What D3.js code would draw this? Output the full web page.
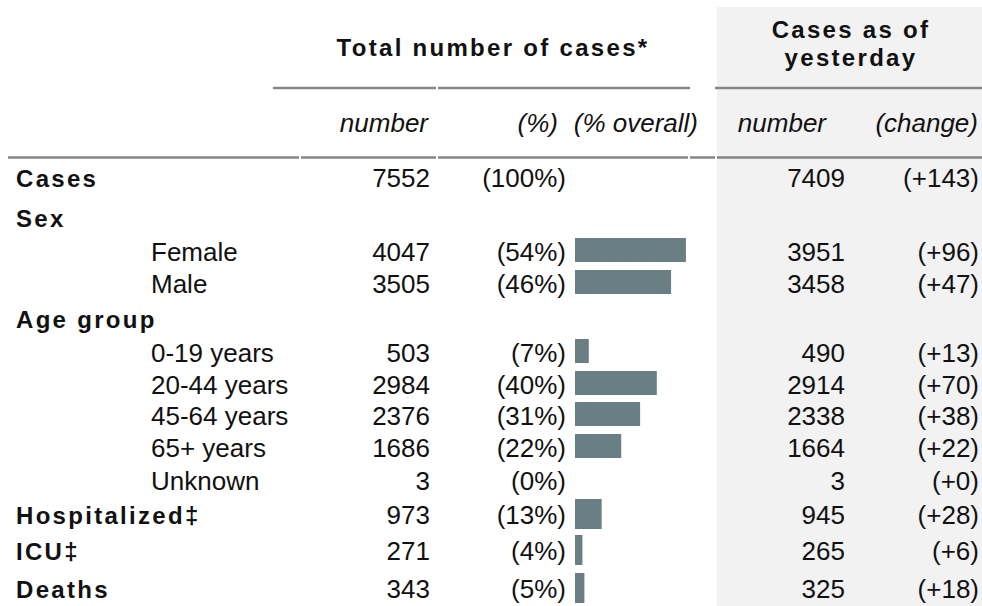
<!DOCTYPE html>
<html>
<head>
<meta charset="utf-8">
<script src="https://cdn.jsdelivr.net/npm/d3@7"></script>
<style>
  html, body { margin: 0; padding: 0; background: #ffffff; }
  svg { display: block; }
</style>
</head>
<body>
<svg id="chart" width="982" height="606"></svg>
<script>
// ---- data ----
const rowLabels = ["Cases", "Sex", "Female", "Male", "Age group", "0-19 years", "20-44 years",
                   "45-64 years", "65+ years", "Unknown", "Hospitalized‡", "ICU‡", "Deaths"];
const rowLevels = [0, 0, 1, 1, 0, 1, 1, 1, 1, 1, 0, 0, 0];
const totalCases = [7552, null, 4047, 3505, null, 503, 2984, 2376, 1686, 3, 973, 271, 343];
const yesterdayCases = [7409, null, 3951, 3458, null, 490, 2914, 2338, 1664, 3, 945, 265, 325];
const changeCases = [143, null, 96, 47, null, 13, 70, 38, 22, 0, 28, 6, 18];
const headerTitles = ["Total number of cases*", "Cases as of", "yesterday"];
const columnHeaders = ["number", "(%)", "(% overall)", "number", "(change)"];

// ---- layout ----
const svg = d3.select("#chart");
const FONT = "'Liberation Sans', Arial, sans-serif";
const ink = "#111111";
const lineGray = "#868686";
const barColor = "#6a7f83";

// vertical pitch from one row to the next (table row heights)
const rowPitch = [40, 34, 32, 35, 34, 32, 31, 32, 33, 34, 36, 38];

const overall = totalCases[0];
const rows = rowLabels.map((label, i) => ({
  label, level: rowLevels[i], total: totalCases[i],
  yest: yesterdayCases[i], chg: changeCases[i], i
}));
let yCursor = 178;
rows.forEach((r, i) => {
  r.center = yCursor;
  yCursor += rowPitch[i] || 0;
});

// shaded "yesterday" panel
svg.append("rect").attr("x", 717).attr("y", 7).attr("width", 265).attr("height", 599)
  .attr("fill", "#f2f2f2");

// x scale for bars
const x = d3.scaleLinear().domain([0, 1]).range([575, 575 + 207]);

// ---- header ----
const bold = sel => sel.attr("font-family", FONT).attr("font-weight", "bold")
  .attr("font-size", 24).attr("letter-spacing", 2.3).attr("fill", ink);

svg.append("text").text(headerTitles[0]).attr("x", 493).attr("y", 56)
  .attr("text-anchor", "middle").call(bold);
svg.append("text").text(headerTitles[1]).attr("x", 851).attr("y", 38)
  .attr("text-anchor", "middle").call(bold);
svg.append("text").text(headerTitles[2]).attr("x", 851).attr("y", 66)
  .attr("text-anchor", "middle").call(bold);

// header underline segments
const hdrLines = [[273, 436], [438, 690], [715, 982]];
svg.selectAll("line.hdr").data(hdrLines).enter().append("line")
  .attr("x1", d => d[0]).attr("x2", d => d[1]).attr("y1", 88).attr("y2", 88)
  .attr("stroke", lineGray).attr("stroke-width", 2.5);

// column header row
const colHdrPos = [
  {x: 428, anchor: "end"}, {x: 558, anchor: "end"}, {x: 698, anchor: "end"},
  {x: 826, anchor: "end"}, {x: 978, anchor: "end"}
];
svg.selectAll("text.colhdr").data(columnHeaders).enter().append("text")
  .attr("x", (d, i) => colHdrPos[i].x).attr("y", 132)
  .attr("text-anchor", (d, i) => colHdrPos[i].anchor)
  .attr("font-family", FONT).attr("font-style", "italic").attr("font-size", 26)
  .attr("fill", ink).text(d => d);

// line under column headers
const subLines = [[8, 299], [301, 436], [438, 688], [690, 715], [717, 982]];
svg.selectAll("line.sub").data(subLines).enter().append("line")
  .attr("x1", d => d[0]).attr("x2", d => d[1]).attr("y1", 157.5).attr("y2", 157.5)
  .attr("stroke", lineGray).attr("stroke-width", 2.5);

// ---- rows ----
const g = svg.selectAll("g.row").data(rows).enter().append("g");

g.append("text")
  .attr("x", d => d.level === 0 ? 16 : 151)
  .attr("y", d => d.center + 9)
  .attr("font-family", FONT)
  .attr("font-size", d => d.level === 0 ? 24 : 26)
  .attr("font-weight", d => d.level === 0 ? "bold" : "normal")
  .attr("letter-spacing", d => d.level === 0 ? 2.3 : 0)
  .attr("fill", ink)
  .text(d => d.label);

const withVals = rows.filter(d => d.total !== null);
const gv = svg.selectAll("g.vals").data(withVals).enter().append("g")
  .attr("font-family", FONT).attr("font-size", 26).attr("fill", ink);

gv.append("text").attr("x", 430).attr("y", d => d.center + 9).attr("text-anchor", "end")
  .text(d => d.total);
gv.append("text").attr("x", 566).attr("y", d => d.center + 9).attr("text-anchor", "end")
  .text(d => "(" + Math.round(d.total / overall * 100) + "%)");
gv.append("text").attr("x", 845).attr("y", d => d.center + 9).attr("text-anchor", "end")
  .text(d => d.yest);
gv.append("text").attr("x", 979).attr("y", d => d.center + 9).attr("text-anchor", "end")
  .text(d => "(+" + d.chg + ")");

// bars (% overall); bars narrower than a pixel are not drawn
const barRows = withVals.filter(d => d.i > 0 && (x(d.total / overall) - x(0)) >= 1);
svg.selectAll("rect.bar").data(barRows).enter().append("rect")
  .attr("x", x(0))
  .attr("width", d => x(d.total / overall) - x(0))
  .attr("y", d => d.center - (d.level === 0 ? 1 : 2) - (d.level === 0 ? 15 : 12))
  .attr("height", d => d.level === 0 ? 30 : 24)
  .attr("fill", barColor);
</script>
</body>
</html>
